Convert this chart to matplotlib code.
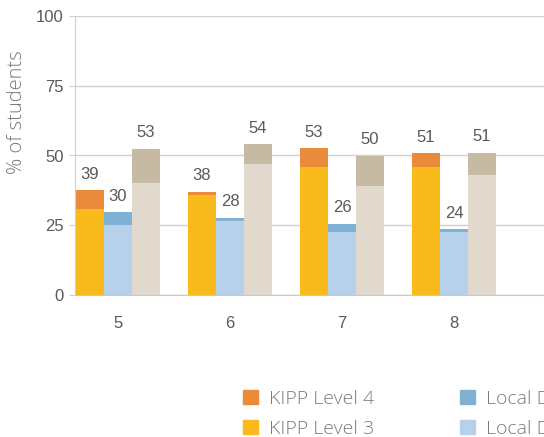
import matplotlib.pyplot as plt
from matplotlib.patches import Patch
import numpy as np

# grades and % of students per level
grades = ["5", "6", "7", "8"]
kipp_l3 = [31, 36, 46, 46]
kipp_l4 = [6.5, 1, 6.7, 4.8]
local_l3 = [25, 26.5, 22.6, 22.7]
local_l4 = [4.6, 1.2, 2.9, 1]
state_l3 = [40, 47, 39, 43]
state_l4 = [12.5, 7, 11, 8]
kipp_labels = [39, 38, 53, 51]
local_labels = [30, 28, 26, 24]
state_labels = [53, 54, 50, 51]

c_kipp4, c_kipp3 = "#E98B3A", "#F9BB1B"
c_loc4, c_loc3 = "#7FB1D4", "#B7D1EA"
c_st4, c_st3 = "#C6BAA3", "#E1D8CE"
num_color = "#595959"
txt_color = "#7A7A7A"

fig = plt.figure(figsize=(5.44, 4.37), dpi=100)
ax = fig.add_axes([75 / 544, 142 / 437, 1 - 75 / 544, 279 / 437])

x = np.arange(len(grades))
w = 0.25
groups = [
    (x - w, kipp_l3, kipp_l4, kipp_labels, c_kipp3, c_kipp4),
    (x, local_l3, local_l4, local_labels, c_loc3, c_loc4),
    (x + w, state_l3, state_l4, state_labels, c_st3, c_st4),
]
for pos, l3, l4, labs, c3, c4 in groups:
    ax.bar(pos, l3, w, color=c3, edgecolor="none", zorder=2)
    ax.bar(pos, l4, w, bottom=l3, color=c4, edgecolor="none", zorder=2)
    for p, a, b, lab in zip(pos, l3, l4, labs):
        ax.text(p, a + b + 3, str(lab), ha="center", va="bottom",
                fontsize=12, color=num_color, family="Liberation Sans")

ax.set_ylim(0, 100)
ax.set_xlim(-0.384, (544 - 118) / 112)
ax.set_yticks([0, 25, 50, 75, 100])
ax.set_xticks(x)
ax.set_xticklabels(grades)
ax.grid(axis="y", color="#D0D0D0", linewidth=1, zorder=0)
for s in ["top", "right"]:
    ax.spines[s].set_visible(False)
ax.spines["left"].set_color("#D0D0D0")
ax.spines["bottom"].set_color("#C8C8C8")
ax.tick_params(axis="y", length=4, color="#D0D0D0", labelsize=12,
               labelcolor=num_color, pad=4)
ax.tick_params(axis="x", length=0, labelsize=12, labelcolor=num_color, pad=15)
for t in ax.get_xticklabels() + ax.get_yticklabels():
    t.set_family("Liberation Sans")

fig.text(17 / 544, 1 - 112 / 437, "% of students", rotation=90, ha="center",
         va="center", fontsize=14.5, color=txt_color, family="Open Sans",
         fontweight="light")

handles = [
    Patch(color=c_kipp4, label="KIPP Level 4"),
    Patch(color=c_kipp3, label="KIPP Level 3"),
    Patch(color=c_loc4, label="Local District Level 4"),
    Patch(color=c_loc3, label="Local District Level 3"),
    Patch(color=c_st4, label="State Level 4"),
    Patch(color=c_st3, label="State Level 3"),
]
leg = fig.legend(handles=handles, ncol=3, loc="upper left",
                 bbox_to_anchor=(243 / 544, 1 - 390 / 437), frameon=False,
                 prop={"family": "Open Sans", "size": 14, "weight": "light"},
                 borderpad=0, borderaxespad=0,
                 handlelength=0.75, handleheight=0.75, handletextpad=0.6,
                 columnspacing=4.4, labelspacing=0.6)
for t in leg.get_texts():
    t.set_color(txt_color)

fig.savefig("out.png", dpi=100)
